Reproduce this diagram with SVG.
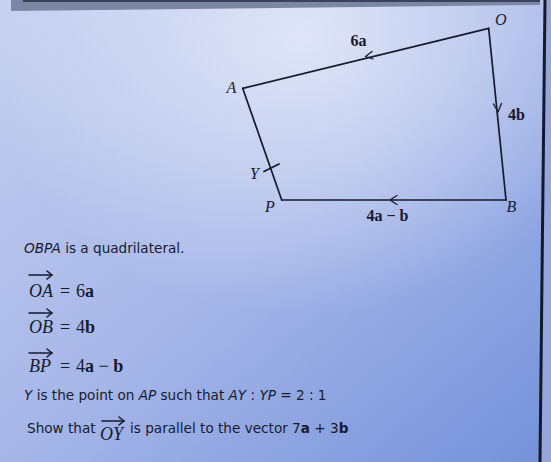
<svg xmlns="http://www.w3.org/2000/svg" width="551" height="462" viewBox="0 0 551 462">
<defs>
<linearGradient id="bg" x1="0" y1="0" x2="1" y2="1">
<stop offset="0" stop-color="#c4cfef"/>
<stop offset="0.5" stop-color="#a6b6e8"/>
<stop offset="1" stop-color="#7391da"/>
</linearGradient>
<radialGradient id="hl" cx="0.55" cy="0.08" r="0.6">
<stop offset="0" stop-color="#eef2fb" stop-opacity="0.75"/>
<stop offset="1" stop-color="#eef2fb" stop-opacity="0"/>
</radialGradient>
<style>
.edge{fill:none;stroke:#161b2e;stroke-width:1.7;stroke-linejoin:round;stroke-linecap:round}
.chev{fill:none;stroke:#161b2e;stroke-width:1.3;stroke-linecap:round;stroke-linejoin:round}
.lab{font-family:"Liberation Serif",serif;font-style:italic;font-size:16px;fill:#161b2e}
.vec{font-family:"Liberation Serif",serif;font-weight:bold;font-size:16px;fill:#161b2e}
.txt{font-family:"DejaVu Sans",sans-serif;font-size:13.6px;fill:#161b2e}
.math{font-family:"Liberation Serif",serif;font-size:18px;fill:#161b2e}
.vbar{fill:none;stroke:#161b2e;stroke-width:1.6;stroke-linecap:round;stroke-linejoin:round}
</style>
</defs>
<rect x="0" y="0" width="551" height="462" fill="url(#bg)"/>
<rect x="0" y="0" width="551" height="462" fill="url(#hl)"/>
<polygon points="11,0 540,0 540,5 11,11" fill="#7c87a6"/>
<polygon points="23,0 540,0 540,2 23,2" fill="#3a4158"/>
<polygon points="546,0 551,0 551,462 541,462" fill="#94a6dc"/>
<line x1="545" y1="0" x2="540" y2="462" stroke="#141a2c" stroke-width="3"/>

<g id="connectors">
<line class="edge" x1="488.7" y1="28.3" x2="242.7" y2="88.3"/>
<line class="edge" x1="488.7" y1="28.3" x2="506" y2="200"/>
<line class="edge" x1="506" y1="200" x2="281.7" y2="200"/>
<line class="edge" x1="242.7" y1="88.3" x2="281.7" y2="200"/>
<polyline class="chev" points="372,51.5 365.5,56.5 373,59"/>
<polyline class="chev" points="493.5,104 498,112 501.5,103.5"/>
<polyline class="chev" points="397,195.5 390,200 397,204.5"/>
<line class="edge" x1="264" y1="171.5" x2="279" y2="164"/>
<text class="vec" x="350.5" y="46">6a</text>
<text class="vec" x="508" y="120">4b</text>
<text class="vec" x="366.5" y="221">4a − b</text>
</g>

<g id="node-O"><text class="lab" x="495" y="25">O</text></g>
<g id="node-A"><text class="lab" x="226.5" y="93">A</text></g>
<g id="node-Y"><text class="lab" x="250" y="179">Y</text></g>
<g id="node-P"><text class="lab" x="265" y="212">P</text></g>
<g id="node-B"><text class="lab" x="506.5" y="212">B</text></g>

<g id="statement">
<text class="txt" x="24" y="253"><tspan font-style="italic">OBPA</tspan> is a quadrilateral.</text>

<polyline class="vbar" points="29,275 52,275"/>
<polyline class="vbar" points="47,271 52,275 47,279"/>
<text class="math" x="29" y="297"><tspan font-style="italic">OA</tspan></text>
<text class="math" x="60" y="297">=</text>
<text class="math" x="76" y="297">6<tspan font-weight="bold">a</tspan></text>

<polyline class="vbar" points="29,313 52,313"/>
<polyline class="vbar" points="47,309 52,313 47,317"/>
<text class="math" x="29" y="333"><tspan font-style="italic">OB</tspan></text>
<text class="math" x="60" y="333">=</text>
<text class="math" x="76" y="333">4<tspan font-weight="bold">b</tspan></text>

<polyline class="vbar" points="29,353 52,353"/>
<polyline class="vbar" points="47,349 52,353 47,357"/>
<text class="math" x="29" y="372"><tspan font-style="italic">BP</tspan></text>
<text class="math" x="60" y="372">=</text>
<text class="math" x="76" y="372">4<tspan font-weight="bold">a</tspan> − <tspan font-weight="bold">b</tspan></text>

<text class="txt" x="24" y="400"><tspan font-style="italic">Y</tspan> is the point on <tspan font-style="italic">AP</tspan> such that <tspan font-style="italic">AY</tspan> : <tspan font-style="italic">YP</tspan> = 2 : 1</text>

<text class="txt" x="27" y="433">Show that</text>
<polyline class="vbar" points="102,421 124,421"/>
<polyline class="vbar" points="119,417 124,421 119,425"/>
<text class="math" x="100" y="440"><tspan font-style="italic">OY</tspan></text>
<text class="txt" x="130" y="433">is parallel to the vector 7<tspan font-weight="bold">a</tspan> + 3<tspan font-weight="bold">b</tspan></text>
</g>
</svg>
